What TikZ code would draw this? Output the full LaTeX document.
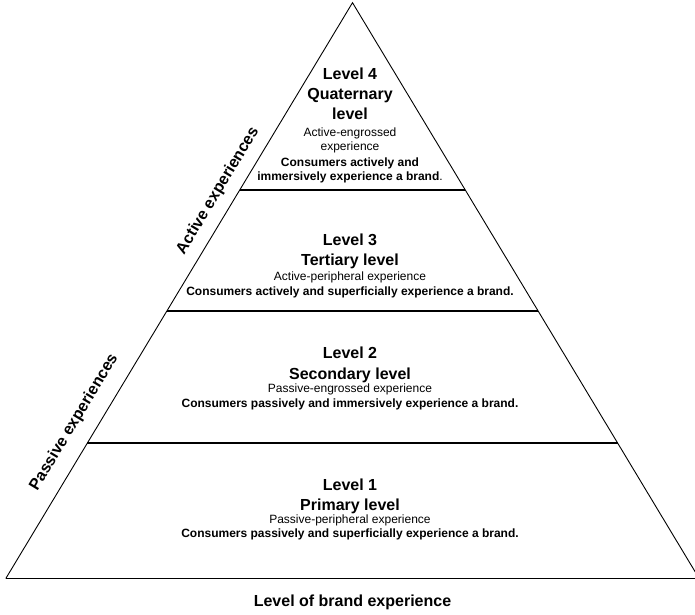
\documentclass[tikz,border=0pt]{standalone}
\usepackage{fontspec}
\setmainfont{Liberation Sans}
\usetikzlibrary{calc}
\begin{document}
\begin{tikzpicture}[x=1pt,y=-1pt,
  ttl/.style={font=\fontsize{16}{19}\selectfont\bfseries, anchor=base, inner sep=0pt},
  sub/.style={font=\fontsize{12}{14}\selectfont, anchor=base, inner sep=0pt},
  dsc/.style={font=\fontsize{12}{14}\selectfont\bfseries, anchor=base, inner sep=0pt},
  side/.style={font=\fontsize{16}{19}\selectfont\bfseries, inner sep=0pt, rotate=59},
  edge/.style={line width=0.9pt},
  divider/.style={line width=1.8pt}]
\useasboundingbox (0,0) rectangle (695,614);
\clip (0,0) rectangle (695,614);
\coordinate (A) at (352.5,2.7);
\coordinate (L) at (5.8,578.5);
\coordinate (R) at (699.2,578.5);
% pyramid
\draw[edge, line join=miter] (L) -- (A) -- (R);
\draw[line width=1.5pt] (L) -- (R);
% dividers
\coordinate (d1l) at ($(A)!0.3253!(L)$);
\coordinate (d1r) at ($(A)!0.3253!(R)$);
\coordinate (d2l) at ($(A)!0.5354!(L)$);
\coordinate (d2r) at ($(A)!0.5354!(R)$);
\coordinate (d3l) at ($(A)!0.7647!(L)$);
\coordinate (d3r) at ($(A)!0.7647!(R)$);
\draw[divider] (d1l) -- (d1r);
\draw[divider] (d2l) -- (d2r);
\draw[divider] (d3l) -- (d3r);
% level 4
\node[ttl] (l4a) at (350,79.3) {Level 4};
\node[ttl] (l4b) at (350,99.3) {Quaternary};
\node[ttl] (l4c) at (350,119.3) {level};
\node[sub] (l4d) at (350,136) {Active-engrossed};
\node[sub] (l4e) at (350,150) {experience};
\node[dsc] (l4f) at (350,166) {Consumers actively and};
\node[dsc] (l4g) at (350,180) {immersively experience a brand\textmd{.}};
% level 3
\node[ttl] (l3a) at (350,245.7) {Level 3};
\node[ttl] (l3b) at (350,265.7) {Tertiary level};
\node[sub] (l3c) at (350,280) {Active-peripheral experience};
\node[dsc] (l3d) at (350,295) {Consumers actively and superficially experience a brand.};
% level 2
\node[ttl] (l2a) at (350,358.3) {Level 2};
\node[ttl] (l2b) at (350,379) {Secondary level};
\node[sub] (l2c) at (350,392.3) {Passive-engrossed experience};
\node[dsc] (l2d) at (350,407.7) {Consumers passively and immersively experience a brand.};
% level 1
\node[ttl] (l1a) at (350,490.7) {Level 1};
\node[ttl] (l1b) at (350,510.7) {Primary level};
\node[sub] (l1c) at (350,523.3) {Passive-peripheral experience};
\node[dsc] (l1d) at (350,537.3) {Consumers passively and superficially experience a brand.};
% side labels
\node[side] (act) at (218,190.8) {Active experiences};
\node[side] (pas) at (74.2,422.5) {Passive experiences};
% bottom label
\node[ttl] (axis) at (352.5,606.7) {Level of brand experience};
\end{tikzpicture}
\end{document}
